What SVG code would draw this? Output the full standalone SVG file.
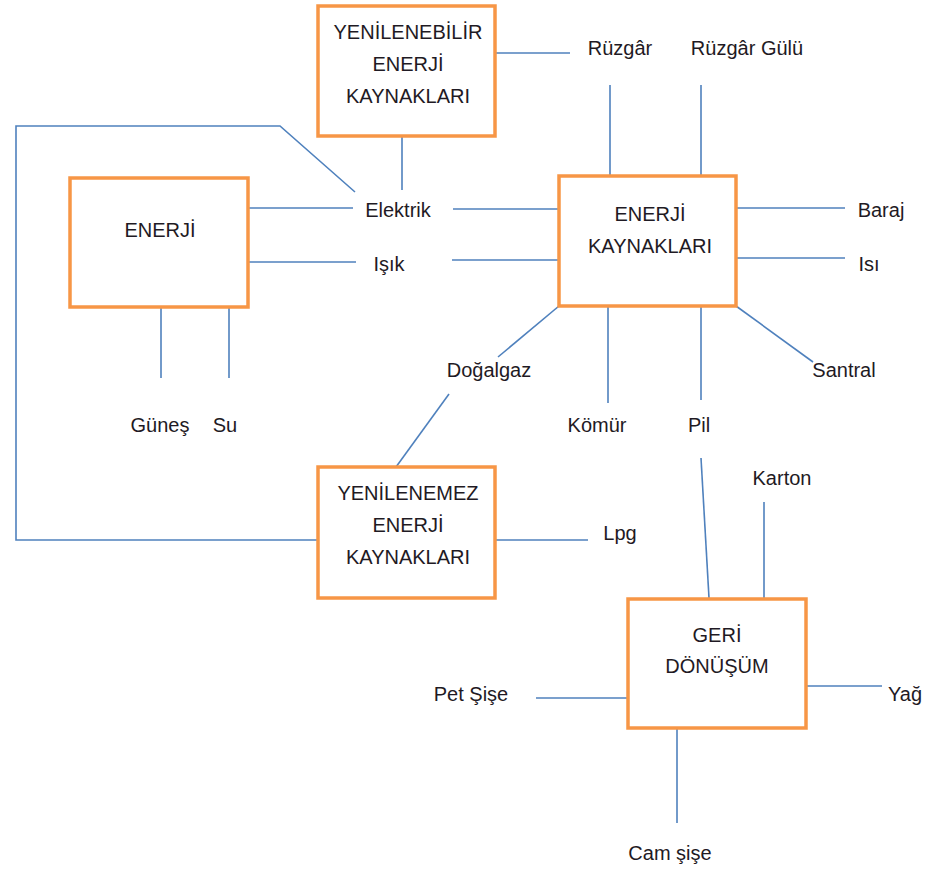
<svg xmlns="http://www.w3.org/2000/svg" width="935" height="875" viewBox="0 0 935 875">
  <style>
    .box { fill: #ffffff; stroke: #F79646; stroke-width: 3.5; }
    .lbl { font-family: "Liberation Sans", Arial, sans-serif; font-size: 20px; fill: #1f1a24; text-anchor: middle; }
    .conn { fill: none; stroke: #4F81BD; stroke-width: 1.6; }
  </style>
  <rect width="935" height="875" fill="#ffffff"/>

  <!-- connectors -->
  <g id="connectors" class="conn">
    <polyline points="318,540 16,540 16,126 280,126 355,192"/>
    <line x1="402" y1="137" x2="402" y2="190"/>
    <line x1="495" y1="53" x2="570" y2="53"/>
    <line x1="610" y1="85" x2="610" y2="176"/>
    <line x1="701" y1="85" x2="701" y2="176"/>
    <line x1="248" y1="208" x2="353" y2="208"/>
    <line x1="453" y1="209" x2="559" y2="209"/>
    <line x1="248" y1="262" x2="356" y2="262"/>
    <line x1="452" y1="260" x2="559" y2="260"/>
    <line x1="736" y1="208" x2="845" y2="208"/>
    <line x1="736" y1="258" x2="845" y2="258"/>
    <line x1="736" y1="306" x2="813" y2="362"/>
    <line x1="559" y1="306" x2="498" y2="357"/>
    <line x1="449" y1="394" x2="396" y2="467"/>
    <line x1="608" y1="306" x2="608" y2="403"/>
    <line x1="701" y1="306" x2="701" y2="400"/>
    <line x1="701" y1="458" x2="709" y2="598"/>
    <line x1="161" y1="308" x2="161" y2="378"/>
    <line x1="229" y1="308" x2="229" y2="378"/>
    <line x1="495" y1="540" x2="588" y2="540"/>
    <line x1="764" y1="502" x2="764" y2="598"/>
    <line x1="536" y1="698" x2="628" y2="698"/>
    <line x1="806" y1="686" x2="882" y2="686"/>
    <line x1="677" y1="728" x2="677" y2="823"/>
  </g>

  <!-- boxed nodes -->
  <g id="yenilenebilir">
    <rect class="box" x="318" y="6" width="177" height="130"/>
    <text class="lbl" x="408" y="39">YENİLENEBİLİR</text>
    <text class="lbl" x="408" y="71">ENERJİ</text>
    <text class="lbl" x="408" y="103">KAYNAKLARI</text>
  </g>
  <g id="enerji">
    <rect class="box" x="70" y="178" width="178" height="129"/>
    <text class="lbl" x="160" y="237">ENERJİ</text>
  </g>
  <g id="enerji-kaynaklari">
    <rect class="box" x="559" y="176" width="177" height="130"/>
    <text class="lbl" x="650" y="221">ENERJİ</text>
    <text class="lbl" x="650" y="253">KAYNAKLARI</text>
  </g>
  <g id="yenilenemez">
    <rect class="box" x="318" y="467" width="177" height="131"/>
    <text class="lbl" x="408" y="500">YENİLENEMEZ</text>
    <text class="lbl" x="408" y="532">ENERJİ</text>
    <text class="lbl" x="408" y="564">KAYNAKLARI</text>
  </g>
  <g id="geri-donusum">
    <rect class="box" x="628" y="599" width="178" height="129"/>
    <text class="lbl" x="717" y="642">GERİ</text>
    <text class="lbl" x="717" y="673">DÖNÜŞÜM</text>
  </g>

  <!-- plain text nodes -->
  <g id="ruzgar"><text class="lbl" x="620" y="55">Rüzgâr</text></g>
  <g id="ruzgar-gulu"><text class="lbl" x="747" y="55">Rüzgâr Gülü</text></g>
  <g id="elektrik"><text class="lbl" x="398" y="217">Elektrik</text></g>
  <g id="isik"><text class="lbl" x="389" y="271">Işık</text></g>
  <g id="baraj"><text class="lbl" x="881" y="217">Baraj</text></g>
  <g id="isi"><text class="lbl" x="869" y="271">Isı</text></g>
  <g id="santral"><text class="lbl" x="844" y="377">Santral</text></g>
  <g id="dogalgaz"><text class="lbl" x="489" y="377">Doğalgaz</text></g>
  <g id="gunes"><text class="lbl" x="160" y="432">Güneş</text></g>
  <g id="su"><text class="lbl" x="225" y="432">Su</text></g>
  <g id="komur"><text class="lbl" x="597" y="432">Kömür</text></g>
  <g id="pil"><text class="lbl" x="699" y="432">Pil</text></g>
  <g id="karton"><text class="lbl" x="782" y="485">Karton</text></g>
  <g id="lpg"><text class="lbl" x="620" y="540">Lpg</text></g>
  <g id="pet-sise"><text class="lbl" x="471" y="701">Pet Şişe</text></g>
  <g id="yag"><text class="lbl" x="905" y="701">Yağ</text></g>
  <g id="cam-sise"><text class="lbl" x="670" y="860">Cam şişe</text></g>
</svg>
